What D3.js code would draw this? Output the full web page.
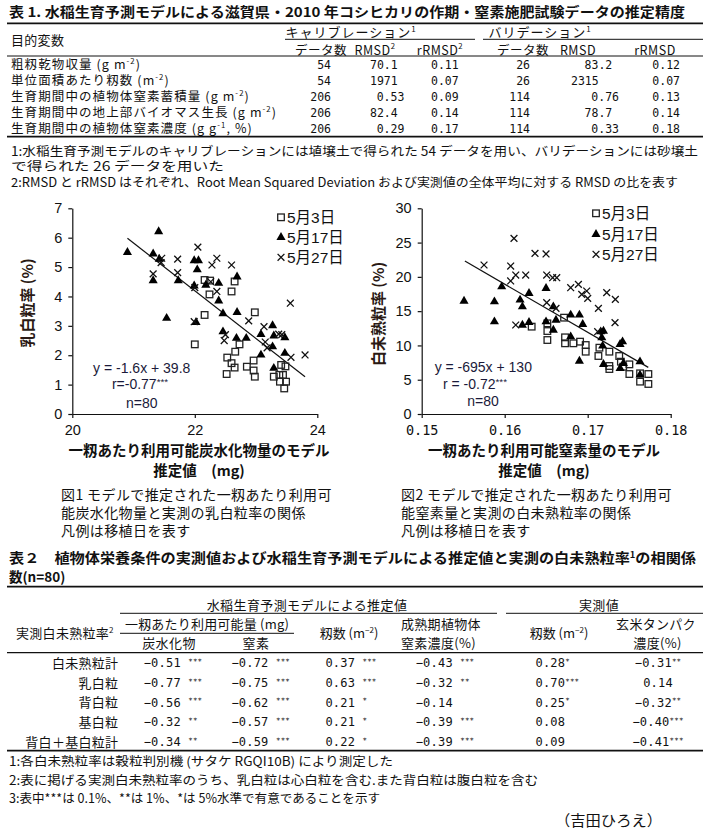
<!DOCTYPE html>
<html><head><meta charset="utf-8">
<script src="https://cdn.jsdelivr.net/npm/d3@7"></script>
<style>
body{margin:0;background:#fff;}
svg{display:block;background:#fff;}
text{fill:#111;white-space:pre;}
</style></head><body>
<script>
// ================= DATA =================
// Table 1
const t1Title = "表 1. 水稲生育予測モデルによる滋賀県・2010 年コシヒカリの作期・窒素施肥試験データの推定精度";
const t1Rows = ["粗籾乾物収量 (g m^{-2})", "単位面積あたり籾数 (m^{-2})", "生育期間中の植物体窒素蓄積量 (g m^{-2})",
  "生育期間中の地上部バイオマス生長 (g m^{-2})", "生育期間中の植物体窒素濃度 (g g^{-1}, %)"];
const t1CalN = ["54", "54", "206", "206", "206"];
const t1CalRMSD = ["70.1", "1971", "0.53", "82.4", "0.29"];
const t1CalR = ["0.11", "0.07", "0.09", "0.14", "0.17"];
const t1ValN = ["26", "26", "114", "114", "114"];
const t1ValRMSD = ["83.2", "2315", "0.76", "78.7", "0.33"];
const t1ValR = ["0.12", "0.07", "0.13", "0.14", "0.18"];
const t1Notes = ["1:水稲生育予測モデルのキャリブレーションには埴壌土で得られた 54 データを用い、バリデーションには砂壌土",
  "で得られた 26 データを用いた",
  "2:RMSD と rRMSD はそれぞれ、Root Mean Squared Deviation および実測値の全体平均に対する RMSD の比を表す"];

// Figure 1: 乳白粒率 vs 炭水化物量
const c1XTicks = [20, 22, 24];
const c1YTicks = [0, 1, 2, 3, 4, 5, 6, 7];
const c1Date3X = [22.0,22.16,22.16,22.24,22.25,22.65,22.6,22.98,22.73,22.66,22.52,22.53,22.6,22.65,22.85,22.96,22.96,22.98,23.29,23.38,23.44,23.41,23.48,23.39,23.49,23.46];
const c1Date3Y = [2.37,3.37,4.56,4.07,4.54,4.51,4.17,3.46,2.37,2.12,1.36,1.92,1.73,1.58,1.61,1.82,1.48,1.27,1.27,1.33,1.33,1.67,1.62,1.10,1.10,0.87];
const c1Date17X = [20.9,21.41,21.32,21.42,21.32,21.54,21.73,21.99,21.99,22.06,22.04,22.02,22.18,22.39,22.39,22.46,22.46,22.69,22.69,22.68,22.84,23.08,23.08,23.27,23.29,23.27,23.29,23.47,23.47];
const c1Date17Y = [5.50,6.21,5.45,5.27,4.54,3.26,4.54,4.36,5.22,5.22,4.91,3.12,4.39,4.45,3.85,3.42,2.80,4.67,3.46,2.58,2.58,2.01,2.71,3.01,2.66,2.29,1.56,2.60,2.07];
const c1Date27X = [21.32,21.46,21.45,21.72,21.72,22.05,21.99,22.0,22.28,22.36,22.26,22.36,22.6,22.5,22.48,22.88,23.13,23.15,23.18,23.37,23.42,23.56,23.57,23.8];
const c1Date27Y = [4.77,5.30,5.15,5.27,4.81,5.68,3.14,4.3,5.07,5.30,4.5,4.17,5.07,2.7,2.5,3.17,2.97,2.45,2.25,2.72,2.7,3.77,1.93,2.01];
const c1LineX = [20.9, 23.8];
const c1LineY = [5.98, 1.27];
const c1Stats = ["y = -1.6x + 39.8", "r=-0.77^{***}", "n=80"];

// Figure 2: 白未熟粒率 vs 窒素量
const c2XTicks = [0.15, 0.16, 0.17, 0.18];
const c2YTicks = [0, 5, 10, 15, 20, 25, 30];
const c2Date3X = [0.16325,0.16514,0.16514,0.16514,0.16715,0.16727,0.16727,0.16827,0.16908,0.16976,0.16976,0.17129,0.17141,0.17261,0.17261,0.17261,0.1738,0.174,0.17428,0.17502,0.17502,0.17631,0.17631,0.17731,0.17731];
const c2Date3Y = [12.74,13.22,12.1,10.79,14.05,11.18,10.31,10.31,10.55,10.06,9.09,8.46,9.67,9.09,7.0,6.56,8.46,7.63,6.9,7.24,5.83,5.93,4.72,5.83,4.38];
const c2Date17X = [0.1551,0.15876,0.15876,0.15964,0.16185,0.16213,0.16213,0.16293,0.16293,0.16498,0.16498,0.16586,0.16586,0.16618,0.16795,0.16795,0.169,0.1694,0.169,0.17157,0.1719,0.1717,0.1718,0.1719,0.1739,0.1742,0.1739,0.1743,0.1763,0.1763];
const c2Date17Y = [16.48,16.38,13.47,18.57,16.63,15.65,12.98,17.6,13.37,18.33,13.47,15.65,12.25,13.71,14.44,11.28,14.44,13.08,7.73,12.0,12.1,11.13,9.92,7.24,10.16,10.55,6.66,7.39,7.63,5.69];
const c2Date27X = [0.15751,0.16072,0.16072,0.16112,0.16133,0.16133,0.16253,0.16365,0.16498,0.16506,0.16506,0.16578,0.16627,0.16618,0.16795,0.16888,0.16928,0.16988,0.17,0.17129,0.17229,0.17333,0.17329,0.1712];
const c2Date27Y = [21.73,21.58,19.40,25.62,20.27,12.98,20.27,23.43,23.34,20.27,16.24,19.88,19.88,15.41,18.42,18.91,17.45,17.94,16.87,15.41,17.70,16.72,13.32,12.0];
const c2LineX = [0.1552, 0.1773];
const c2LineY = [22.3, 6.8];
const c2Stats = ["y = -695x + 130", "r = -0.72^{***}", "n=80"];

const legendLabels = ["5月3日", "5月17日", "5月27日"];

// Table 2
const t2Title = ["表２　植物体栄養条件の実測値および水稲生育予測モデルによる推定値と実測の白未熟粒率^{1}の相関係", "数(n=80)"];
const t2Rows = ["白未熟粒計", "乳白粒", "背白粒", "基白粒", "背白＋基白粒計"];
const t2Vals = [
  [-0.51, -0.72, 0.37, -0.43, 0.28, -0.31],
  [-0.77, -0.75, 0.63, -0.32, 0.70, 0.14],
  [-0.56, -0.62, 0.21, -0.14, 0.25, -0.32],
  [-0.32, -0.57, 0.21, -0.39, 0.08, -0.40],
  [-0.34, -0.59, 0.22, -0.39, 0.09, -0.41]];
const t2Sig = [
  ["***", "***", "***", "***", "*", "**"],
  ["***", "***", "***", "**", "***", ""],
  ["***", "***", "*", "", "*", "**"],
  ["**", "***", "*", "***", "", "***"],
  ["**", "***", "*", "***", "", "***"]];
const t2Notes = ["1:各白未熟粒率は穀粒判別機 (サタケ RGQI10B) により測定した",
  "2:表に掲げる実測白未熟粒率のうち、乳白粒は心白粒を含む.また背白粒は腹白粒を含む",
  "3:表中***は 0.1%、**は 1%、*は 5%水準で有意であることを示す"];

// ================= DRAW =================
const JP = '"Noto Sans CJK JP", sans-serif';
const LAT = '"Liberation Sans", Arial, "Noto Sans CJK JP", sans-serif';
const MONO = '"DejaVu Sans Mono", "Noto Sans CJK JP", monospace';

const svg = d3.select("body").append("svg").attr("width", 705).attr("height", 831);

function T(g, x, yc, str, o = {}) {
  const fs = o.fs || 13;
  const t = g.append("text").attr("x", x).attr("y", yc + 0.37 * fs)
    .attr("font-size", fs).attr("text-anchor", o.anchor || "start")
    .style("font-family", o.family || JP).attr("font-weight", o.weight || "normal");
  if (o.ls != null) t.attr("letter-spacing", o.ls);
  if (o.tl) t.attr("textLength", o.tl).attr("lengthAdjust", "spacingAndGlyphs");
  if (o.fill) t.style("fill", o.fill);
  if (o.rot) t.attr("transform", `rotate(${o.rot},${x},${yc})`);
  const supK = o.supK || 0.42, supS = o.supS || 0.62;
  const re = /\^\{([^}]*)\}/g;
  let last = 0, m, cur = 0;
  const seg = (s, off, small) => {
    const ts = t.append("tspan").text(s);
    if (off - cur !== 0) ts.attr("dy", off - cur);
    if (small) ts.attr("font-size", fs * supS);
    cur = off;
  };
  while ((m = re.exec(str))) {
    if (m.index > last) seg(str.slice(last, m.index), 0, false);
    seg(m[1], -fs * supK, true);
    last = re.lastIndex;
  }
  if (last < str.length) seg(str.slice(last), 0, false);
  return t;
}
function hline(x1, x2, y, w) {
  svg.append("line").attr("x1", x1).attr("x2", x2).attr("y1", y).attr("y2", y)
    .attr("stroke", "#111").attr("stroke-width", w || 1);
}

// ---------- Table 1 ----------
T(svg, 9, 12, t1Title, {fs: 13.5, weight: "bold", tl: 676});
hline(7, 703, 23.3, 1.8);
T(svg, 11, 40, "目的変数", {fs: 13, ls: 0.3});
T(svg, 351, 32.3, "キャリブレーション^{1}", {fs: 13, anchor: "middle", ls: 1});
T(svg, 540, 32.3, "バリデーション^{1}", {fs: 13, anchor: "middle", ls: 1});
hline(285, 475, 39.3, 1);
hline(483, 703, 39.3, 1);
const t1Sub = [["データ数", 321], ["RMSD^{2}", 375], ["rRMSD^{2}", 440], ["データ数", 523], ["RMSD", 578], ["rRMSD", 655]];
t1Sub.forEach(([s, x]) => T(svg, x, 50, s, {fs: 12.5, anchor: "middle", ls: 0.5}));
hline(7, 703, 56, 1);
const t1RowY = [64.3, 80.7, 96.7, 112.7, 128.7];
function decRight(s, base) {
  if (!s.includes(".")) return base.i;
  return s.split(".")[1].length === 1 ? base.d1 : base.d2;
}
t1Rows.forEach((r, i) => {
  const y = t1RowY[i];
  T(svg, 11, y, r, {fs: 12.5, ls: 1.1});
  T(svg, 331, y, t1CalN[i], {fs: 11.5, anchor: "end", family: MONO});
  T(svg, decRight(t1CalRMSD[i], {i: 397.7, d1: 397.7, d2: 404.4}), y, t1CalRMSD[i], {fs: 11.5, anchor: "end", family: MONO});
  T(svg, 458.7, y, t1CalR[i], {fs: 11.5, anchor: "end", family: MONO});
  T(svg, 530, y, t1ValN[i], {fs: 11.5, anchor: "end", family: MONO});
  T(svg, decRight(t1ValRMSD[i], {i: 598.7, d1: 612.3, d2: 619}), y, t1ValRMSD[i], {fs: 11.5, anchor: "end", family: MONO});
  T(svg, 680, y, t1ValR[i], {fs: 11.5, anchor: "end", family: MONO});
});
hline(7, 703, 136.7, 1.8);
T(svg, 11, 151.7, t1Notes[0], {fs: 12.5, tl: 687});
T(svg, 11, 166.7, t1Notes[1], {fs: 12.5, tl: 213});
T(svg, 11, 182.7, t1Notes[2], {fs: 12.5, tl: 667});

// ---------- Scatter helpers ----------
function drawScatter(cfg) {
  const g = svg.append("g");
  const x = d3.scaleLinear().domain(cfg.xDom).range(cfg.xRange);
  const y = d3.scaleLinear().domain(cfg.yDom).range(cfg.yRange);
  const ax = g.append("g").attr("transform", `translate(0,${cfg.yRange[0]})`)
    .call(d3.axisBottom(x).tickValues(cfg.xTicks).tickSize(4).tickSizeOuter(0).tickPadding(7).tickFormat(cfg.xFmt));
  const ay = g.append("g").attr("transform", `translate(${cfg.xRange[0]},0)`)
    .call(d3.axisLeft(y).tickValues(cfg.yTicks).tickSize(4).tickSizeOuter(0).tickPadding(6).tickFormat(d3.format("d")));
  [ax, ay].forEach(a => {
    a.select(".domain").attr("stroke", "#111").attr("stroke-width", 1.2);
    a.selectAll(".tick line").attr("stroke", "#111").attr("stroke-width", 1.2);
  });
  ax.selectAll("text").style("font-family", cfg.xFont).attr("font-size", cfg.xFs);
  ay.selectAll("text").style("font-family", LAT).attr("font-size", 14.5);

  // regression line
  g.append("line").attr("x1", x(cfg.lineX[0])).attr("y1", y(cfg.lineY[0]))
    .attr("x2", x(cfg.lineX[1])).attr("y2", y(cfg.lineY[1]))
    .attr("stroke", "#111").attr("stroke-width", 1.2);

  const sq = (sel) => sel.append("rect").attr("x", -3.3).attr("y", -3.3).attr("width", 6.6).attr("height", 6.6)
    .attr("fill", "#fff").attr("fill-opacity", 0).attr("stroke", "#222").attr("stroke-width", 1.3);
  const tri = (sel) => sel.append("path").attr("d", d3.symbol(d3.symbolTriangle, 36)()).attr("fill", "#000");
  const cross = (sel) => sel.append("path").attr("d", "M-3.4,-3.4L3.4,3.4M-3.4,3.4L3.4,-3.4")
    .attr("stroke", "#111").attr("stroke-width", 1.3).attr("fill", "none");
  const series = [[cfg.d3x, cfg.d3y, sq], [cfg.d17x, cfg.d17y, tri], [cfg.d27x, cfg.d27y, cross]];
  series.forEach(([xs, ys, fn]) => {
    const pts = g.append("g").selectAll("g").data(xs.map((v, i) => [v, ys[i]])).join("g")
      .attr("transform", d => `translate(${x(d[0])},${y(d[1])})`);
    fn(pts);
  });
  // legend
  legendLabels.forEach((l, i) => {
    const ly = cfg.legY[i];
    const lg = g.append("g").attr("transform", `translate(${cfg.legX},${ly})`);
    series[i][2](lg);
    T(g, cfg.legX + 6, ly, l, {fs: 15.5, family: LAT});
  });
  // stats
  cfg.stats.forEach((s, i) => T(g, cfg.statX[i], cfg.statY[i], s, {fs: 14, anchor: "middle", family: LAT, fill: "#1a1a3a", supK: 0.35, supS: 0.7}));
  // y title
  T(g, cfg.yTitleX, cfg.yTitleY, cfg.yTitle, {fs: 15, anchor: "middle", weight: "bold", rot: -90, fill: "#2a1a14"});
  // x title
  T(g, cfg.xTitleX, 451, cfg.xTitle[0], {fs: 14.5, anchor: "middle", weight: "bold"});
  T(g, cfg.xTitleX, 470.5, cfg.xTitle[1], {fs: 14.5, anchor: "middle", weight: "bold"});
  // caption
  cfg.caption.forEach((c, i) => T(g, cfg.capX, [495, 513, 530.7][i], c, {fs: 14, ls: 0.4}));
}

drawScatter({
  xDom: [20, 24], xRange: [72.3, 317.3], yDom: [0, 7], yRange: [414, 208.3],
  xTicks: c1XTicks, yTicks: c1YTicks, xFmt: d3.format("d"), xFont: LAT, xFs: 14.5,
  d3x: c1Date3X, d3y: c1Date3Y, d17x: c1Date17X, d17y: c1Date17Y, d27x: c1Date27X, d27y: c1Date27Y,
  lineX: c1LineX, lineY: c1LineY,
  legX: 281, legY: [217.3, 237.3, 257.3],
  stats: c1Stats, statX: [141.7, 140, 141.7], statY: [368.3, 384.3, 403.3],
  yTitle: "乳白粒率 (%)", yTitleX: 27, yTitleY: 303,
  xTitle: ["一籾あたり利用可能炭水化物量のモデル", "推定値　(mg)"], xTitleX: 199,
  caption: ["図1 モデルで推定された一籾あたり利用可", "能炭水化物量と実測の乳白粒率の関係", "凡例は移植日を表す"], capX: 61
});
drawScatter({
  xDom: [0.15, 0.18], xRange: [421.7, 670.7], yDom: [0, 30], yRange: [414, 208.3],
  xTicks: c2XTicks, yTicks: c2YTicks, xFmt: d3.format(".2f"), xFont: MONO, xFs: 13.5,
  d3x: c2Date3X, d3y: c2Date3Y, d17x: c2Date17X, d17y: c2Date17Y, d27x: c2Date27X, d27y: c2Date27Y,
  lineX: c2LineX, lineY: c2LineY,
  legX: 596, legY: [213.3, 234.3, 254.3],
  stats: c2Stats, statX: [483.3, 475, 483], statY: [366.7, 384.3, 400.7],
  yTitle: "白未熟粒率 (%)", yTitleX: 378, yTitleY: 314,
  xTitle: ["一籾あたり利用可能窒素量のモデル", "推定値　(mg)"], xTitleX: 544,
  caption: ["図2 モデルで推定された一籾あたり利用可", "能窒素量と実測の白未熟粒率の関係", "凡例は移植日を表す"], capX: 401
});

// ---------- Table 2 ----------
T(svg, 9, 558.3, t2Title[0], {fs: 13.5, weight: "bold", tl: 687});
T(svg, 9, 576.7, t2Title[1], {fs: 13.5, weight: "bold"});
hline(7, 703, 586.7, 1.8);
T(svg, 307, 605, "水稲生育予測モデルによる推定値", {fs: 13, anchor: "middle", ls: 0.4});
T(svg, 599, 605, "実測値", {fs: 13, anchor: "middle", ls: 0.4});
hline(120, 497, 613.3, 1);
hline(506, 703, 613.3, 1);
T(svg, 16, 633.3, "実測白未熟粒率^{2}", {fs: 13, ls: 0.3});
T(svg, 207, 624, "一籾あたり利用可能量 (mg)", {fs: 13, anchor: "middle", ls: 0.2});
hline(120, 294, 633.3, 1);
T(svg, 169, 642.7, "炭水化物", {fs: 13, anchor: "middle", ls: 0.4});
T(svg, 256, 642.7, "窒素", {fs: 13, anchor: "middle", ls: 0.4});
T(svg, 349, 633.3, "籾数 (m^{−2})", {fs: 13, anchor: "middle"});
T(svg, 401, 624, "成熟期植物体", {fs: 13, ls: 0.3});
T(svg, 401, 642.7, "窒素濃度(%)", {fs: 13, ls: 0.3});
T(svg, 559, 633.3, "籾数 (m^{−2})", {fs: 13, anchor: "middle"});
T(svg, 656, 624, "玄米タンパク", {fs: 13, anchor: "middle", ls: 0.3});
T(svg, 657.5, 642.7, "濃度(%)", {fs: 13, anchor: "middle", ls: 0.3});
hline(7, 703, 652.7, 1.2);
const t2RowY = [662.7, 682.7, 702.3, 721.7, 741.7];
const t2ColX = [143.7, 231.4, 325.4, 415.7, 535.5, 658];
const fmtV = v => (v < 0 ? "−" : "") + Math.abs(v).toFixed(2);
t2Rows.forEach((r, i) => {
  const y = t2RowY[i];
  T(svg, 118.4, y, r, {fs: 13, anchor: "end", ls: 0.3});
  t2Vals[i].forEach((v, j) => {
    const sig = t2Sig[i][j];
    const s = fmtV(v) + (sig ? (j < 4 ? " " : "") + "^{" + sig + "}" : "");
    T(svg, t2ColX[j], y, s, {fs: 12, family: MONO, ls: 0.2, anchor: j === 5 ? "middle" : "start", supK: 0.3, supS: 0.62});
  });
});
hline(7, 703, 750.7, 1.8);
T(svg, 9, 761.7, t2Notes[0], {fs: 12.5, tl: 384});
T(svg, 9, 780, t2Notes[1], {fs: 12.5, tl: 529});
T(svg, 9, 798.3, t2Notes[2], {fs: 12.5, tl: 371});
T(svg, 555, 820, "（吉田ひろえ）", {fs: 15, tl: 107});
</script>
</body></html>
